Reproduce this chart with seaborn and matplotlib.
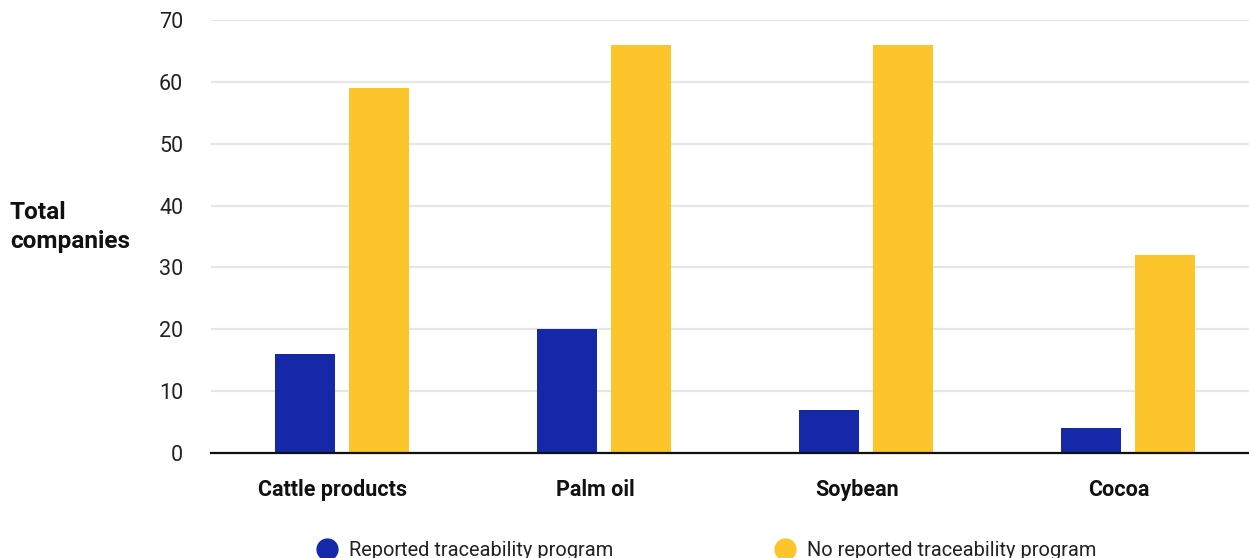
import pandas as pd
import matplotlib.pyplot as plt
import matplotlib.transforms as mtransforms
import seaborn as sns
from matplotlib.lines import Line2D

# data
categories = ['Cattle products', 'Palm oil', 'Soybean', 'Cocoa']
series_names = ['Reported traceability program', 'No reported traceability program']
reported = [16, 20, 7, 4]
not_reported = [59, 66, 66, 32]
y_ticks = [0, 10, 20, 30, 40, 50, 60, 70]

colors = ['#1428a8', '#fdc52c']

df = pd.DataFrame({
    'Commodity': categories * 2,
    'Program': [series_names[0]] * 4 + [series_names[1]] * 4,
    'Companies': reported + not_reported,
})

sns.set_style('white')
plt.rcParams['font.family'] = ['Roboto', 'DejaVu Sans']

fig = plt.figure(figsize=(12.49, 5.58), dpi=100)
ax = fig.add_axes([211 / 1249, 105 / 558, 1038 / 1249, 433 / 558])

sns.barplot(data=df, x='Commodity', y='Companies', hue='Program',
            palette=colors, width=0.565, gap=0.2, ax=ax, legend=False,
            saturation=1, edgecolor='none')

ax.set_xlim(-0.5, -0.5 + 1038 / 262)
ax.set_ylim(0, 70)
ax.set_yticks(y_ticks)
ax.set_yticklabels([str(t) for t in y_ticks], fontsize=15.5, color='#222222')
ax.tick_params(axis='y', length=0, pad=20)
ax.tick_params(axis='x', length=0, pad=19)
# category labels sit a little left of the bar pairs in the original
shift = mtransforms.ScaledTranslation(-0.09, 0, fig.dpi_scale_trans)
for lbl in ax.get_xticklabels():
    lbl.set_fontweight('bold')
    lbl.set_fontsize(15.5)
    lbl.set_color('#111111')
    lbl.set_transform(lbl.get_transform() + shift)

ax.yaxis.grid(True, color='#e6e6e6', linewidth=1.6)
ax.set_axisbelow(True)
for side in ['top', 'right', 'left']:
    ax.spines[side].set_visible(False)
ax.spines['bottom'].set_color('#111111')
ax.spines['bottom'].set_linewidth(1.6)

ax.set_xlabel('')
ax.set_ylabel('')
fig.text(10 / 1249, 1 - 227 / 558, 'Total\ncompanies', fontsize=17.6,
         fontweight='bold', color='#111111', ha='left', va='center',
         linespacing=1.3)

handles = [Line2D([0], [0], marker='o', linestyle='none', markersize=15,
                  markerfacecolor=c, markeredgecolor=c) for c in colors]
fig.legend(handles, series_names, loc='center', ncol=2,
           bbox_to_anchor=(702 / 1249, 1 - 550 / 558), frameon=False,
           fontsize=14.4, handletextpad=0.1, columnspacing=7.6,
           labelcolor='#222222')

fig.savefig('out.png', dpi=100)
